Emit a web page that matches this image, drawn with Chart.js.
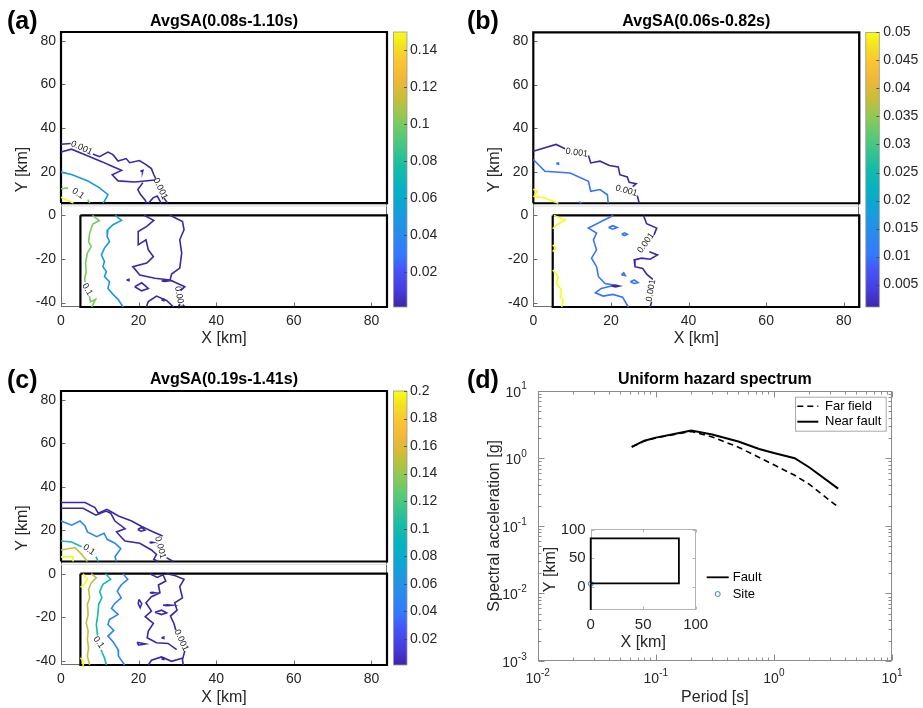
<!DOCTYPE html>
<html>
<head>
<meta charset="utf-8">
<title>AvgSA maps and uniform hazard spectrum</title>
<script src="https://cdn.jsdelivr.net/npm/chart.js@4.4.1/dist/chart.umd.min.js"></script>
<style>
  body { margin: 0; background: #fff; }
  #fig { position: relative; width: 923px; height: 708px; overflow: hidden; background: #fff; }
  #fig canvas { position: absolute; }
</style>
</head>
<body>
<div id="fig">
  <canvas id="mapA" width="460" height="354" style="left:0;top:0"></canvas>
  <canvas id="mapB" width="463" height="354" style="left:460px;top:0"></canvas>
  <canvas id="mapC" width="460" height="368" style="left:0;top:340px"></canvas>
  <canvas id="uhs" width="463" height="368" style="left:460px;top:340px"></canvas>
  <canvas id="inset" width="240" height="140" style="left:540px;top:515px"></canvas>
</div>
<script>
Chart.defaults.font.family = "'Liberation Sans', Arial, Helvetica, sans-serif";
Chart.defaults.color = '#262626';
Chart.defaults.animation = false;

// ---------- map axes (km) ----------
const mapXTicks = [0, 20, 40, 60, 80];
const mapYTicks = [-40, -20, 0, 20, 40, 60, 80];

// fault outlines in plan view
const faultUpper = [[0, 5.6], [84, 5.6], [84, 84], [0, 84], [0, 5.6]];
const faultLower = [[5, 0], [84, 0], [84, -42], [5, -42], [5, 0]];
const seam = [[0, 4.3], [84, 4.3]];

// colorbar ranges and ticks
const cbRangeA = [0.001, 0.15];
const cbTicksA = [0.02, 0.04, 0.06, 0.08, 0.1, 0.12, 0.14];
const cbRangeB = [0.001, 0.05];
const cbTicksB = [0.005, 0.01, 0.015, 0.02, 0.025, 0.03, 0.035, 0.04, 0.045, 0.05];
const cbRangeC = [0.001, 0.2];
const cbTicksC = [0.02, 0.04, 0.06, 0.08, 0.1, 0.12, 0.14, 0.16, 0.18, 0.2];

// ---------- (a) AvgSA(0.08s-1.10s) contours ----------
const levelsA = [0.001, 0.05, 0.1, 0.15];
const contA001 = [
  [[0, 32.6], [2.5, 32.9]],
  [[8.2, 28.1], [9.9, 26.9], [12.1, 29.0], [13.4, 27.8], [14.7, 24.9], [16.8, 26.0], [17.7, 24.1], [20.2, 25.1], [21.7, 23.5], [23.3, 21.4], [23.9, 18.7], [24.4, 16.8]],
  [[26.5, 8.0], [27.5, 5.6]],
  [[0, 29.0], [2.7, 30.3], [6.5, 27.5], [10.5, 24.6], [13.0, 22.6], [15.6, 20.6], [13.2, 18.6], [14.7, 15.8], [19.0, 15.3], [24.2, 16.2]],
  [[21.1, 15.0], [19.8, 11.8], [20.5, 9.5], [21.7, 6.9], [22.0, 5.6]],
  [[22.6, 5.6], [23.7, 8.0], [24.8, 8.8], [25.8, 5.6]],
  [[20.5, 20.3], [21.1, 20.6], [21.0, 19.9], [20.5, 20.3]],
  [[21.4, 0], [23.9, -2.3], [22.1, -5.1], [19.9, -7.4], [19.9, -13.5], [21.9, -11.2], [22.5, -15.8], [23.8, -18.9], [22.1, -21.9], [18.5, -23.5], [20.3, -27.3], [24.2, -28.8], [28.1, -29.6]],
  [[28.1, 0], [31.3, -2.8], [31.7, -6.6], [30.6, -11.2], [31.1, -17.3], [30.6, -24.2], [28.5, -26.9], [28.1, -29.6], [31.9, -32.7], [30.8, -34.5]],
  [[30.6, -40.6], [30.4, -42]],
  [[19.0, -32.7], [20.8, -30.9], [22.5, -33.5], [20.8, -34.6], [19.0, -32.7]],
  [[16.9, -29.6], [17.5, -29.3], [17.5, -29.9], [16.9, -29.6]],
  [[25.9, -30.1], [26.8, -29.9], [27.6, -30.1], [26.8, -30.3], [25.9, -30.1]],
  [[22.0, -42], [22.5, -39.5], [24.6, -37.0], [27.2, -39.0], [29.0, -42]],
  [[25.9, -38.8], [26.5, -38.5], [26.5, -39.1], [25.9, -38.8]]
];
const contA05 = [
  [[0, 19.8], [2.7, 18.7], [6.95, 15.7], [9.95, 12.6], [12.1, 9.5], [11.2, 6.5], [10.8, 5.6]],
  [[14.0, 0], [15.6, -2.3], [13.4, -4.3], [12.1, -6.6], [11.9, -9.7], [12.5, -12.0], [11.2, -15.0], [10.4, -18.1], [11.2, -21.2], [10.8, -23.5], [11.7, -25.8], [11.2, -28.1], [12.5, -30.4], [12.1, -33.5], [13.4, -36.2], [14.7, -38.5], [16.0, -42]]
];
const contA10 = [
  [[0, 12.2], [1.8, 12.6]],
  [[6.9, 7.2], [7.4, 5.6]],
  [[8.1, 0], [9.9, -2.4], [8.2, -4.0], [7.4, -8.1], [7.1, -12.0], [7.8, -14.3], [6.8, -17.3], [6.3, -22.0], [6.5, -25.8], [6.1, -29.2], [6.2, -30.6]],
  [[7.3, -37.0], [7.6, -39.6], [8.9, -38.5], [7.9, -42]]
];
const contA15 = [
  [[0, 8.3], [3.2, 5.6]]
];
const contoursA = [contA001, contA05, contA10, contA15];
const tagsA = [['0.001', 5.3, 30.9, 25], ['0.001', 25.6, 12.2, 65], ['0.1', 4.4, 10.0, 35], ['0.1', 6.8, -33.9, 60], ['0.001', 30.5, -37.6, 80]];

// ---------- (b) AvgSA(0.06s-0.82s) contours ----------
const levelsB = [0.001, 0.01, 0.05];
const contB001 = [
  [[0, 29.5], [5.85, 32.6], [8.2, 30.6]],
  [[14.2, 27.5], [14.8, 24.1], [17.2, 24.9], [19.6, 22.9], [21.9, 22.3], [22.3, 18.7], [24.2, 17.7], [24.7, 15.2], [26.5, 14.6], [25.6, 13.2]],
  [[26.8, 9.1], [27.3, 5.6]],
  [[28.4, 0], [29.2, -3.8], [31.8, -5.8], [31.1, -8.9]],
  [[29.9, -16.6], [32.0, -18.1], [30.1, -20.1], [27.9, -19.6], [26.0, -20.4], [26.2, -23.5], [28.2, -24.3], [29.2, -26.9], [30.8, -29.3]],
  [[30.5, -39.6], [30.1, -42]],
  [[20.2, -32.4], [21.2, -32.0], [22.2, -32.4], [21.2, -32.8], [20.2, -32.4]]
];
const contB01 = [
  [[0, 25.7], [3.0, 20.3], [9.5, 19.5], [14.2, 15.7], [14.8, 11.1], [17.2, 11.9], [19.1, 9.5], [19.3, 5.6]],
  [[5.9, 23.8], [6.5, 24.1], [6.5, 23.5], [5.9, 23.8]],
  [[11.8, 6.3], [12.4, 5.6]],
  [[20.6, 0], [18.0, -2.3], [14.2, -5.8], [16.3, -8.1], [15.5, -11.2], [16.3, -15.8], [15.0, -19.6], [16.3, -23.5], [16.8, -28.1], [18.5, -31.2], [21.0, -32.0], [17.5, -33.5], [16.0, -35.5], [18.0, -37.0], [20.5, -36.2], [23.0, -37.5], [24.0, -40.5], [24.5, -42]],
  [[19.4, -5.5], [20.5, -4.7], [21.6, -5.5], [20.5, -6.3], [19.4, -5.5]],
  [[22.8, -8.6], [23.5, -8.0], [24.2, -8.6], [23.5, -9.2], [22.8, -8.6]],
  [[22.7, -27.2], [23.3, -26.3], [23.7, -27.6], [22.7, -27.2]],
  [[25.0, -30.4], [26.0, -29.6], [27.0, -30.8], [26.0, -31.2], [25.0, -30.4]]
];
const contB05 = [
  [[0, 12.0], [1.0, 11.1], [0.2, 8.8], [3.0, 8.0], [6.45, 5.6]],
  [[5.3, 0], [8.2, -2.0], [5.85, -4.6], [5.0, -6.1]],
  [[5.0, -13.5], [5.85, -15.0], [5.0, -16.6]],
  [[5.0, -25.0], [6.45, -28.1], [6.0, -31.2], [7.3, -34.2], [6.9, -37.3], [7.7, -38.9], [7.3, -42]]
];
const contoursB = [contB001, contB01, contB05];
const tagsB = [['0.001', 11.2, 28.8, 8], ['0.001', 24.0, 11.3, 15], ['0.001', 29.0, -12.6, -55], ['0.001', 30.3, -34.4, -80]];

// ---------- (c) AvgSA(0.19s-1.41s) contours ----------
const levelsC = [0.001, 0.05, 0.1, 0.15, 0.2];
const contC001 = [
  [[0, 32.7], [6.2, 32.7], [8.75, 30.4], [9.6, 27.8], [11.8, 29.6], [12.6, 28.8], [14.8, 26.5], [18.2, 24.2], [20.8, 21.7], [23.8, 19.2], [26.2, 17.3]],
  [[27.2, 7.4], [28.9, 5.6]],
  [[0, 30.1], [5.7, 30.1], [9.0, 26.9], [11.6, 28.8], [12.8, 27.8], [13.9, 24.2], [16.5, 20.7], [14.3, 19.2], [15.6, 16.6], [16.5, 15.0], [20.3, 14.0], [23.3, 10.9], [24.6, 8.9], [23.9, 6.6], [25.0, 5.6]],
  [[19.8, 20.3], [20.8, 21.3], [21.6, 20.0], [20.6, 19.5], [19.8, 20.3]],
  [[22.8, 14.3], [23.3, 14.5], [23.8, 14.3], [23.3, 14.1], [22.8, 14.3]],
  [[22.9, 0], [24.8, -1.7], [26.3, -0.5], [27.0, -3.4], [25.1, -5.2], [25.5, -8.8], [23.3, -10.6], [21.9, -13.4], [23.3, -17.2], [21.7, -19.8], [23.8, -22.9], [22.5, -26.4], [22.2, -29.5], [24.6, -31.8], [27.6, -32.1], [29.8, -34.9]],
  [[27.2, 0], [29.3, -0.8], [31.7, -2.6], [30.6, -6.0], [31.3, -11.1], [29.3, -13.4], [29.9, -16.8], [28.2, -19.5], [29.1, -22.9], [29.6, -26.0]],
  [[31.9, -35.5], [31.3, -39.5], [31.5, -42]],
  [[22.5, -42], [23.3, -39.8], [25.9, -38.3], [28.5, -40.3], [31.4, -38.8]],
  [[22.9, -8.8], [23.5, -8.6], [24.2, -8.8], [23.5, -9.0], [22.9, -8.8]],
  [[20.1, -11.8], [20.8, -13.8], [20.4, -15.7], [19.9, -13.8], [20.1, -11.8]],
  [[26.3, -14.5], [27.4, -14.3], [28.5, -14.5], [27.4, -14.7], [26.3, -14.5]],
  [[24.2, -17.7], [25.9, -16.8], [27.2, -18.0], [25.9, -18.8], [24.2, -17.7]],
  [[25.9, -29.5], [26.5, -29.2], [26.5, -29.8], [25.9, -29.5]],
  [[19.6, -31.5], [21.8, -32.3], [20.0, -32.9], [19.6, -31.5]],
  [[25.9, -39.2], [26.5, -38.9], [26.5, -39.5], [25.9, -39.2]]
];
const contC05 = [
  [[0, 24.2], [2.75, 22.3], [4.9, 24.2], [6.2, 21.9], [6.8, 19.2], [9.2, 17.0], [11.1, 18.6], [11.9, 15.8], [13.9, 14.0], [15.4, 11.5], [13.9, 7.8], [14.3, 5.6]],
  [[16.0, 0], [17.2, -2.6], [15.5, -5.2], [14.5, -8.0], [15.5, -11.1], [13.8, -13.8], [13.0, -16.0], [14.7, -18.7], [12.5, -21.1], [12.1, -23.4], [13.6, -26.1], [12.1, -28.7], [13.4, -31.3], [14.7, -34.9], [14.8, -37.9], [16.4, -42]]
];
const contC10 = [
  [[0, 15.0], [2.75, 14.6], [5.3, 12.4]],
  [[9.0, 7.8], [9.6, 5.6]],
  [[11.5, 0], [12.8, -2.6], [10.8, -4.9], [9.95, -8.3], [10.55, -11.1], [9.7, -14.1], [9.5, -18.7], [9.1, -23.4], [9.35, -27.2], [9.4, -28.4]],
  [[10.3, -35.0], [10.55, -36.0], [11.2, -38.7], [11.7, -42]]
];
const contC15 = [
  [[0, 10.9], [3.6, 12.0], [5.3, 8.9], [6.8, 5.6]],
  [[7.8, 0], [9.1, -1.9], [7.8, -4.2], [7.1, -7.2], [7.4, -11.1], [6.8, -14.1], [7.0, -18.7], [6.5, -22.6], [7.0, -26.4], [6.8, -30.3], [7.1, -34.1], [6.8, -37.9], [7.4, -42]]
];
const contC20 = [
  [[0, 7.7], [3.1, 7.7], [3.1, 5.6]],
  [[5.7, 0], [6.8, -2.6], [5.9, -5.2], [5.0, -6.2]],
  [[5.0, -38.7], [5.9, -40.6], [5.7, -42]]
];
const contoursC = [contC001, contC05, contC10, contC15, contC20];
const tagsC = [['0.001', 25.6, 12.0, 75], ['0.1', 7.2, 11.0, 35], ['0.1', 9.7, -31.6, 55], ['0.001', 31.0, -30.6, 65]];

// ---------- (d) uniform hazard spectrum ----------
const periods = [0.0625, 0.08, 0.1, 0.15, 0.2, 0.3, 0.5, 0.75, 1.0, 1.5, 2.0, 3.5];
const farField = [1.47, 1.8, 2.0, 2.28, 2.5, 2.07, 1.46, 1.03, 0.8, 0.56, 0.41, 0.19];
const nearFault = [1.47, 1.82, 2.02, 2.32, 2.58, 2.25, 1.77, 1.37, 1.2, 1.0, 0.73, 0.355];
const xDecades = [-2, -1, 0, 1];
const yDecades = [-3, -2, -1, 0, 1];

// inset: site location map
const insetFault = [[0, 6], [84, 6], [84, 85], [0, 85], [0, 6]];
const insetFaultTail = [[0, 6], [0, -41]];
const siteLoc = [[0, 5]];
const insetTicks = [0, 50, 100];

// MATLAB parula, sampled
const parulaStops = [
  [0.00, [62, 38, 168]], [0.06, [70, 60, 222]], [0.13, [71, 82, 244]], [0.19, [51, 121, 253]],
  [0.25, [44, 135, 239]], [0.32, [29, 152, 224]], [0.38, [11, 167, 210]], [0.44, [7, 179, 191]],
  [0.51, [23, 188, 166]], [0.57, [57, 196, 140]], [0.63, [95, 202, 113]], [0.70, [150, 200, 80]],
  [0.76, [200, 190, 55]], [0.83, [240, 185, 55]], [0.89, [250, 196, 50]], [0.95, [245, 225, 35]],
  [1.00, [249, 251, 20]]
];

function parula(t) {
  t = Math.max(0, Math.min(1, t));
  for (let i = 1; i < parulaStops.length; i++) {
    const [t1, c1] = parulaStops[i];
    if (t <= t1) {
      const [t0, c0] = parulaStops[i - 1];
      const f = (t - t0) / (t1 - t0);
      const c = c0.map((v, k) => Math.round(v + (c1[k] - v) * f));
      return `rgb(${c[0]},${c[1]},${c[2]})`;
    }
  }
  return 'rgb(249,251,20)';
}

const toXY = pts => pts.map(p => ({x: p[0], y: p[1]}));

function line(pts, color, width, extra) {
  return Object.assign({
    data: toXY(pts), showLine: true, borderColor: color, borderWidth: width,
    pointRadius: 0, tension: 0, clip: 4
  }, extra || {});
}

// axes box, inward ticks, titles, contour labels, colorbar and legends
const panelDeco = {
  id: 'panelDeco',
  beforeDatasetsDraw(chart, args, o) {
    if (!o || !o.box) return;
    const {ctx, chartArea: a, scales} = chart;
    const L = Math.round(a.left) + 0.5, R = Math.round(a.right) - 0.5;
    const T = Math.round(a.top) + 0.5, B = Math.round(a.bottom) - 0.5;
    ctx.save();
    if (o.fill) {
      ctx.fillStyle = o.fill;
      ctx.fillRect(a.left, a.top, a.right - a.left, a.bottom - a.top);
    }
    ctx.strokeStyle = o.box;
    ctx.lineWidth = 1;
    ctx.strokeRect(L, T, R - L, B - T);
    ctx.beginPath();
    (o.xMarks || []).forEach(([v, len]) => {
      const px = Math.round(scales.x.getPixelForValue(v)) + 0.5;
      ctx.moveTo(px, B); ctx.lineTo(px, B - len);
      if (o.allSides) { ctx.moveTo(px, T); ctx.lineTo(px, T + len); }
    });
    (o.yMarks || []).forEach(([v, len]) => {
      const py = Math.round(scales.y.getPixelForValue(v)) + 0.5;
      ctx.moveTo(L, py); ctx.lineTo(L + len, py);
      if (o.allSides) { ctx.moveTo(R, py); ctx.lineTo(R - len, py); }
    });
    ctx.stroke();
    ctx.restore();
  },
  afterDraw(chart, args, o) {
    if (!o) return;
    const {ctx, chartArea: a, scales} = chart;
    ctx.save();
    ctx.fillStyle = '#000';
    if (o.letter) {
      ctx.font = "bold 25px 'Liberation Sans', Arial, sans-serif";
      ctx.textAlign = 'left';
      ctx.textBaseline = 'middle';
      ctx.fillText(o.letter, 7, o.letterY);
    }
    if (o.title) {
      ctx.font = "bold 16px 'Liberation Sans', Arial, sans-serif";
      ctx.textAlign = 'center';
      ctx.textBaseline = 'middle';
      ctx.fillText(o.title, (a.left + a.right) / 2, o.titleY);
    }
    // inline contour labels
    (o.tags || []).forEach(([txt, x, y, ang]) => {
      ctx.save();
      ctx.translate(scales.x.getPixelForValue(x), scales.y.getPixelForValue(y));
      ctx.rotate(ang * Math.PI / 180);
      ctx.font = "9px 'Liberation Sans', Arial, sans-serif";
      ctx.fillStyle = '#1a1a1a';
      ctx.textAlign = 'center';
      ctx.textBaseline = 'middle';
      ctx.fillText(txt, 0, 0);
      ctx.restore();
    });
    // colorbar next to the map
    if (o.colorbar) {
      const cb = scales.cb;
      const x0 = a.right + o.colorbar.gap, w = o.colorbar.width;
      const g = ctx.createLinearGradient(0, a.bottom, 0, a.top);
      parulaStops.forEach(([t, c]) => g.addColorStop(t, `rgb(${c[0]},${c[1]},${c[2]})`));
      ctx.fillStyle = g;
      ctx.fillRect(x0, a.top, w, a.bottom - a.top);
      ctx.strokeStyle = '#9a9a9a';
      ctx.lineWidth = 0.8;
      ctx.strokeRect(x0, a.top, w, a.bottom - a.top);
      ctx.strokeStyle = '#444';
      ctx.beginPath();
      cb.ticks.forEach(t => {
        const py = Math.round(cb.getPixelForValue(t.value)) + 0.5;
        ctx.moveTo(x0 + w - 3, py); ctx.lineTo(x0 + w, py);
      });
      ctx.stroke();
    }
    // log axis labels as 10 with a raised exponent
    if (o.logLabels) {
      const base = "14px 'Liberation Sans', Arial, sans-serif";
      const sup = "10px 'Liberation Sans', Arial, sans-serif";
      const drawPow = (e, x, y, align) => {
        const ex = e < 0 ? '-' + Math.abs(e) : String(e);
        ctx.font = base; const wb = ctx.measureText('10').width;
        ctx.font = sup; const we = ctx.measureText(ex).width;
        let left = align === 'right' ? x - wb - we : x - (wb + we) / 2;
        ctx.fillStyle = '#262626';
        ctx.textAlign = 'left';
        ctx.textBaseline = 'middle';
        ctx.font = base; ctx.fillText('10', left, y);
        ctx.font = sup; ctx.fillText(ex, left + wb, y - 6);
      };
      o.logLabels.x.forEach(e => drawPow(e, scales.x.getPixelForValue(10 ** e), a.bottom + 18, 'center'));
      o.logLabels.y.forEach(e => drawPow(e, a.left - 11, scales.y.getPixelForValue(10 ** e) + 2, 'right'));
    }
    // legend built from the labelled datasets
    if (o.legend) {
      const lg = o.legend;
      if (lg.w) {
        ctx.fillStyle = '#fff';
        ctx.fillRect(lg.x, lg.y, lg.w, lg.h);
        ctx.strokeStyle = '#a8a8a8';
        ctx.lineWidth = 1;
        ctx.strokeRect(lg.x + 0.5, lg.y + 0.5, lg.w, lg.h);
      }
      const items = chart.data.datasets.filter(d => d.label);
      items.forEach((d, i) => {
        const y = lg.firstY + i * lg.row;
        const sx = lg.x + lg.pad;
        if (d.showLine) {
          ctx.strokeStyle = d.borderColor;
          ctx.lineWidth = d.borderWidth;
          ctx.setLineDash(d.borderDash || []);
          ctx.beginPath();
          ctx.moveTo(sx, y); ctx.lineTo(sx + lg.sample, y);
          ctx.stroke();
          ctx.setLineDash([]);
        } else {
          ctx.strokeStyle = d.pointBorderColor;
          ctx.lineWidth = 1;
          ctx.beginPath();
          ctx.arc(sx + lg.sample / 2, y, d.pointRadius, 0, Math.PI * 2);
          ctx.stroke();
        }
        ctx.fillStyle = '#000';
        ctx.font = "13px 'Liberation Sans', Arial, sans-serif";
        ctx.textAlign = 'left';
        ctx.textBaseline = 'middle';
        ctx.fillText(d.label, sx + lg.sample + lg.gapText, y);
      });
    }
    ctx.restore();
  }
};
Chart.register(panelDeco);

const noGrid = {display: false, drawTicks: false};

function mapChart(id, levels, contours, cbRange, cbTicks, tags, lay) {
  const datasets = [line(seam, '#d9d9d9', 1)];
  levels.forEach((lev, i) => {
    const color = parula((lev - cbRange[0]) / (cbRange[1] - cbRange[0]));
    contours[i].forEach(pl => datasets.push(line(pl, color, 1.6)));
  });
  datasets.push(line(faultUpper, '#000', 2.2));
  datasets.push(line(faultLower, '#000', 2.2));

  return new Chart(document.getElementById(id), {
    type: 'scatter',
    data: {datasets},
    options: {
      responsive: false,
      events: [],
      layout: {padding: {top: lay.top, left: 0, right: 0, bottom: 0}},
      plugins: {
        legend: {display: false},
        tooltip: {enabled: false},
        panelDeco: {
          box: '#6e6e6e',
          xMarks: mapXTicks.map(v => [v, 4]),
          yMarks: mapYTicks.map(v => [v, 4]),
          letter: lay.letter, letterY: lay.letterY,
          title: lay.title, titleY: lay.titleY,
          tags: tags,
          colorbar: {gap: 6.5, width: 13.5}
        }
      },
      scales: {
        x: {
          type: 'linear', min: 0, max: 84,
          grid: noGrid, border: {display: false},
          afterBuildTicks: s => { s.ticks = mapXTicks.map(v => ({value: v})); },
          afterFit: s => { s.height = lay.xH; },
          ticks: {font: {size: 14}, padding: 6, maxRotation: 0, autoSkip: false, callback: v => String(v)},
          title: {display: true, text: 'X [km]', color: '#262626', font: {size: 16}, padding: {top: 0, bottom: lay.xTitlePad}}
        },
        y: {
          type: 'linear', min: -42, max: 84,
          grid: noGrid, border: {display: false},
          afterBuildTicks: s => { s.ticks = mapYTicks.map(v => ({value: v})); },
          afterFit: s => { s.width = lay.yW; },
          ticks: {font: {size: 14}, padding: 5, autoSkip: false, callback: v => String(v)},
          title: {display: true, text: 'Y [km]', color: '#262626', font: {size: 16}, padding: {top: lay.yTitlePad, bottom: 0}}
        },
        cb: {
          type: 'linear', position: 'right', min: cbRange[0], max: cbRange[1],
          grid: noGrid, border: {display: false},
          afterBuildTicks: s => { s.ticks = cbTicks.map(v => ({value: v})); },
          afterFit: s => { s.width = lay.cbW; },
          ticks: {font: {size: 14}, padding: lay.cbPad, autoSkip: false, callback: v => String(v)}
        }
      }
    }
  });
}

mapChart('mapA', levelsA, contoursA, cbRangeA, cbTicksA, tagsA, {
  top: 32, xH: 47, yW: 61, cbW: 73, cbPad: 23, xTitlePad: 6, yTitlePad: 13.4,
  letter: '(a)', letterY: 22, title: 'AvgSA(0.08s-1.10s)', titleY: 21.5
});
mapChart('mapB', levelsB, contoursB, cbRangeB, cbTicksB, tagsB, {
  top: 32, xH: 47, yW: 73.3, cbW: 63.7, cbPad: 24, xTitlePad: 6, yTitlePad: 25.4,
  letter: '(b)', letterY: 22, title: 'AvgSA(0.06s-0.82s)', titleY: 21.5
});
mapChart('mapC', levelsC, contoursC, cbRangeC, cbTicksC, tagsC, {
  top: 51, xH: 43, yW: 61, cbW: 73, cbPad: 23, xTitlePad: 0.4, yTitlePad: 13.4,
  letter: '(c)', letterY: 41, title: 'AvgSA(0.19s-1.41s)', titleY: 40
});

// log tick marks: decades plus 2..9 minors
function logMarks(decades) {
  const out = [];
  decades.forEach((e, i) => {
    out.push([10 ** e, 6]);
    if (i < decades.length - 1) for (let k = 2; k <= 9; k++) out.push([k * 10 ** e, 3]);
  });
  return out;
}

new Chart(document.getElementById('uhs'), {
  type: 'scatter',
  data: {
    datasets: [
      line(periods.map((p, i) => [p, farField[i]]), '#000', 1.6, {label: 'Far field', borderDash: [6, 4]}),
      line(periods.map((p, i) => [p, nearFault[i]]), '#000', 2, {label: 'Near fault'})
    ]
  },
  options: {
    responsive: false,
    events: [],
    layout: {padding: {top: 50.7, left: 0, right: 31, bottom: 0}},
    plugins: {
      legend: {display: false},
      tooltip: {enabled: false},
      panelDeco: {
        box: '#8c8c8c', allSides: true,
        xMarks: logMarks(xDecades), yMarks: logMarks(yDecades),
        letter: '(d)', letterY: 41, title: 'Uniform hazard spectrum', titleY: 40,
        logLabels: {x: xDecades, y: yDecades},
        legend: {x: 335, y: 56.7, w: 90.7, h: 34, pad: 2.3, firstY: 66.3, row: 15.4, sample: 21, gapText: 6.7}
      }
    },
    scales: {
      x: {
        type: 'logarithmic', min: 0.01, max: 10,
        grid: noGrid, border: {display: false},
        ticks: {display: false},
        afterFit: s => { s.height = 47; },
        title: {display: true, text: 'Period [s]', color: '#262626', font: {size: 16}, padding: {top: 0, bottom: 0.4}}
      },
      y: {
        type: 'logarithmic', min: 0.001, max: 10,
        grid: noGrid, border: {display: false},
        ticks: {display: false},
        afterFit: s => { s.width = 77.7; },
        title: {display: true, text: 'Spectral acceleration [g]', color: '#262626', font: {size: 16}, padding: {top: 25.4, bottom: 0}}
      }
    }
  }
});

new Chart(document.getElementById('inset'), {
  type: 'scatter',
  data: {
    datasets: [
      line(insetFault, '#000', 1.8, {label: 'Fault'}),
      line(insetFaultTail, '#000', 1.8),
      {label: 'Site', data: toXY(siteLoc), showLine: false, pointRadius: 2.5,
       pointBorderColor: '#2f86c8', pointBackgroundColor: 'rgba(0,0,0,0)', pointBorderWidth: 1, clip: false}
    ]
  },
  options: {
    responsive: false,
    events: [],
    layout: {padding: {top: 7.7, left: 0, right: 84.3, bottom: 0}},
    plugins: {
      legend: {display: false},
      tooltip: {enabled: false},
      panelDeco: {
        box: '#b4b4b4', fill: '#fff', allSides: true,
        xMarks: insetTicks.map(v => [v, 3]), yMarks: insetTicks.map(v => [v, 3]),
        legend: {x: 166.7, pad: 0, firstY: 62.3, row: 16.7, sample: 22, gapText: 4}
      }
    },
    scales: {
      x: {
        type: 'linear', min: 0, max: 100,
        grid: noGrid, border: {display: false},
        afterBuildTicks: s => { s.ticks = insetTicks.map(v => ({value: v})); },
        afterFit: s => { s.height = 45; },
        ticks: {font: {size: 15}, padding: 6, maxRotation: 0, autoSkip: false, callback: v => String(v)},
        title: {display: true, text: 'X [km]', color: '#262626', font: {size: 16}, padding: {top: 0, bottom: 2.4}}
      },
      y: {
        type: 'linear', min: -41, max: 101.5,
        grid: noGrid, border: {display: false},
        afterBuildTicks: s => { s.ticks = insetTicks.map(v => ({value: v})); },
        afterFit: s => { s.width = 50.7; },
        ticks: {font: {size: 15}, padding: 5, autoSkip: false, callback: v => String(v)},
        title: {display: true, text: 'Y [km]', color: '#262626', font: {size: 16}, padding: {top: 1.4, bottom: 0}}
      }
    }
  }
});
</script>
</body>
</html>
